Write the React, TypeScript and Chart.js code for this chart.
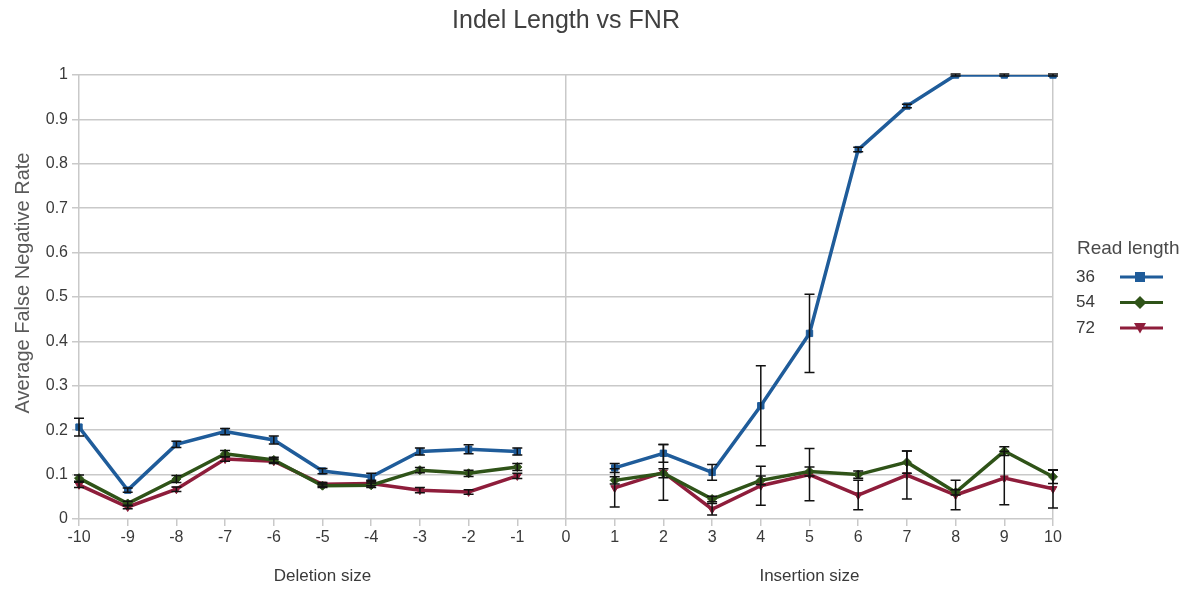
import React, { useEffect, useRef } from "react";
import { Chart, registerables } from "chart.js";

Chart.register(...registerables);

const labels = ["-10","-9","-8","-7","-6","-5","-4","-3","-2","-1","0","1","2","3","4","5","6","7","8","9","10"];

const rl36 = [0.207, 0.065, 0.168, 0.197, 0.178, 0.108, 0.095, 0.152, 0.157, 0.152, null, 0.115, 0.148, 0.105, 0.255, 0.418, 0.832, 0.93, 1.0, 1.0, 1.0];
const err36 = [0.02, 0.005, 0.007, 0.007, 0.009, 0.006, 0.008, 0.008, 0.01, 0.008, 0, 0.01, 0.02, 0.018, 0.09, 0.088, 0.005, 0.004, 0.002, 0.002, 0.002];

const rl54 = [0.092, 0.035, 0.09, 0.147, 0.133, 0.075, 0.076, 0.11, 0.103, 0.117, null, 0.087, 0.103, 0.045, 0.087, 0.107, 0.1, 0.128, 0.06, 0.153, 0.095];
const err54 = [0.007, 0.005, 0.008, 0.007, 0.006, 0.004, 0.005, 0.006, 0.007, 0.008, 0, 0.008, 0.01, 0.006, 0.01, 0.01, 0.008, 0.025, 0.006, 0.01, 0.015];

const rl72 = [0.077, 0.027, 0.067, 0.135, 0.13, 0.078, 0.08, 0.065, 0.061, 0.097, null, 0.07, 0.105, 0.022, 0.075, 0.1, 0.054, 0.099, 0.054, 0.092, 0.068];
const err72 = [0.006, 0.004, 0.005, 0.005, 0.005, 0.004, 0.005, 0.006, 0.005, 0.006, 0, 0.043, 0.063, 0.013, 0.044, 0.059, 0.033, 0.054, 0.033, 0.06, 0.043];

const seriesNames = ["36", "54", "72"];
const seriesColors = ["#1f5c9a", "#2f5318", "#8e1d3b"];
const seriesStyles = ["rect", "rectRot", "triangle"];
const errorSets = [err36, err54, err72];

const chartTitle = "Indel Length vs FNR";
const yTitle = "Average False Negative Rate";
const legendTitle = "Read length";
const groupTitles = [
  { text: "Deletion size", at: "-5" },
  { text: "Insertion size", at: "5" },
];

const FONT = "'Liberation Sans', Arial, sans-serif";
const GRID = "#c9c9c9";
const TEXT = "#3a3a3a";

function drawMarker(ctx: CanvasRenderingContext2D, style: string, x: number, y: number, r: number, color: string) {
  ctx.save();
  ctx.fillStyle = color;
  ctx.beginPath();
  if (style === "rect") {
    ctx.rect(x - r, y - r, 2 * r, 2 * r);
  } else if (style === "rectRot") {
    ctx.moveTo(x, y - r * 1.3);
    ctx.lineTo(x + r * 1.3, y);
    ctx.lineTo(x, y + r * 1.3);
    ctx.lineTo(x - r * 1.3, y);
    ctx.closePath();
  } else {
    ctx.moveTo(x - r * 1.2, y - r);
    ctx.lineTo(x + r * 1.2, y - r);
    ctx.lineTo(x, y + r * 1.1);
    ctx.closePath();
  }
  ctx.fill();
  ctx.restore();
}

const decorPlugin = {
  id: "decor",
  afterDatasetsDraw(chart: any) {
    const { ctx, scales } = chart;
    const x = scales.x;
    const y = scales.y;
    ctx.save();
    ctx.strokeStyle = "#111";
    ctx.lineWidth = 1.5;
    chart.data.datasets.forEach((ds: any, di: number) => {
      const errs = errorSets[di];
      ds.data.forEach((v: number | null, i: number) => {
        if (v == null) return;
        const e = errs[i];
        if (!e) return;
        const px = x.getPixelForValue(i);
        const y1 = y.getPixelForValue(v - e);
        const y2 = y.getPixelForValue(v + e);
        ctx.beginPath();
        ctx.moveTo(px, y1);
        ctx.lineTo(px, y2);
        ctx.moveTo(px - 5, y1);
        ctx.lineTo(px + 5, y1);
        ctx.moveTo(px - 5, y2);
        ctx.lineTo(px + 5, y2);
        ctx.stroke();
      });
    });
    ctx.restore();
  },
  afterDraw(chart: any) {
    const { ctx, chartArea, scales } = chart;
    const x = scales.x;
    ctx.save();
    // title
    ctx.fillStyle = "#404040";
    ctx.font = `25px ${FONT}`;
    ctx.textAlign = "center";
    ctx.textBaseline = "middle";
    ctx.fillText(chartTitle, (chartArea.left + chartArea.right) / 2, 21);
    // y title
    ctx.save();
    ctx.translate(23, 283);
    ctx.rotate(-Math.PI / 2);
    ctx.font = `20px ${FONT}`;
    ctx.fillStyle = "#5a5a5a";
    ctx.fillText(yTitle, 0, 0);
    ctx.restore();
    // group titles
    ctx.font = `17px ${FONT}`;
    ctx.fillStyle = TEXT;
    groupTitles.forEach((g) => {
      const px = x.getPixelForValue(labels.indexOf(g.at));
      ctx.fillText(g.text, px, 576);
    });
    // legend
    ctx.textAlign = "left";
    ctx.font = `19px ${FONT}`;
    ctx.fillStyle = "#4a4a4a";
    ctx.fillText(legendTitle, 1077, 249);
    ctx.font = `17px ${FONT}`;
    seriesNames.forEach((n, i) => {
      const ly = 277 + i * 25.5;
      ctx.fillStyle = TEXT;
      ctx.fillText(n, 1076, ly);
      ctx.strokeStyle = seriesColors[i];
      ctx.lineWidth = 3;
      ctx.beginPath();
      ctx.moveTo(1120, ly);
      ctx.lineTo(1163, ly);
      ctx.stroke();
      drawMarker(ctx, seriesStyles[i], 1140, ly, 5, seriesColors[i]);
    });
    ctx.restore();
  },
};

export default function App() {
  const ref = useRef<HTMLCanvasElement | null>(null);
  useEffect(() => {
    document.body.style.margin = "0";
    const canvas = ref.current;
    if (!canvas) return;
    const chart = new Chart(canvas, {
      type: "line",
      data: {
        labels,
        datasets: [rl36, rl54, rl72].map((d, i) => ({
          label: seriesNames[i],
          data: d,
          borderColor: seriesColors[i],
          backgroundColor: seriesColors[i],
          borderWidth: 3.5,
          pointStyle: seriesStyles[i] as any,
          pointRadius: 4.5,
          pointRotation: i === 2 ? 180 : 0,
          pointBorderWidth: 1,
          spanGaps: false,
          tension: 0,
        })),
      },
      options: {
        animation: false,
        responsive: false,
        layout: { padding: { left: 0, right: 141, top: 75, bottom: 0 } },
        plugins: {
          legend: { display: false },
          title: { display: false },
          tooltip: { enabled: false },
        },
        scales: {
          x: {
            type: "category",
            offset: false,
            grid: {
              color: (c: any) => (c.index === 0 || c.index === 10 || c.index === 20 ? GRID : "rgba(0,0,0,0)"),
              tickColor: GRID,
              tickLength: 7,
              lineWidth: 1.5,
            },
            border: { display: false },
            ticks: {
              color: TEXT,
              font: { family: FONT, size: 16 },
              padding: 2,
              maxRotation: 0,
              autoSkip: false,
            },
            afterFit: (s: any) => {
              s.height = 71;
            },
          },
          y: {
            min: 0,
            max: 1,
            grid: { color: GRID, tickColor: GRID, tickLength: 7, lineWidth: 1.5 },
            border: { display: false },
            ticks: {
              stepSize: 0.1,
              color: TEXT,
              font: { family: FONT, size: 16 },
              padding: 4,
              callback: (v: any) => String(Math.round(Number(v) * 10) / 10),
            },
            afterFit: (s: any) => {
              s.width = 79;
            },
          },
        },
      },
      plugins: [decorPlugin],
    });
    return () => chart.destroy();
  }, []);
  return (
    <div style={{ width: 1194, height: 590, background: "#fff" }}>
      <canvas ref={ref} width={1194} height={590} style={{ display: "block" }} />
    </div>
  );
}
